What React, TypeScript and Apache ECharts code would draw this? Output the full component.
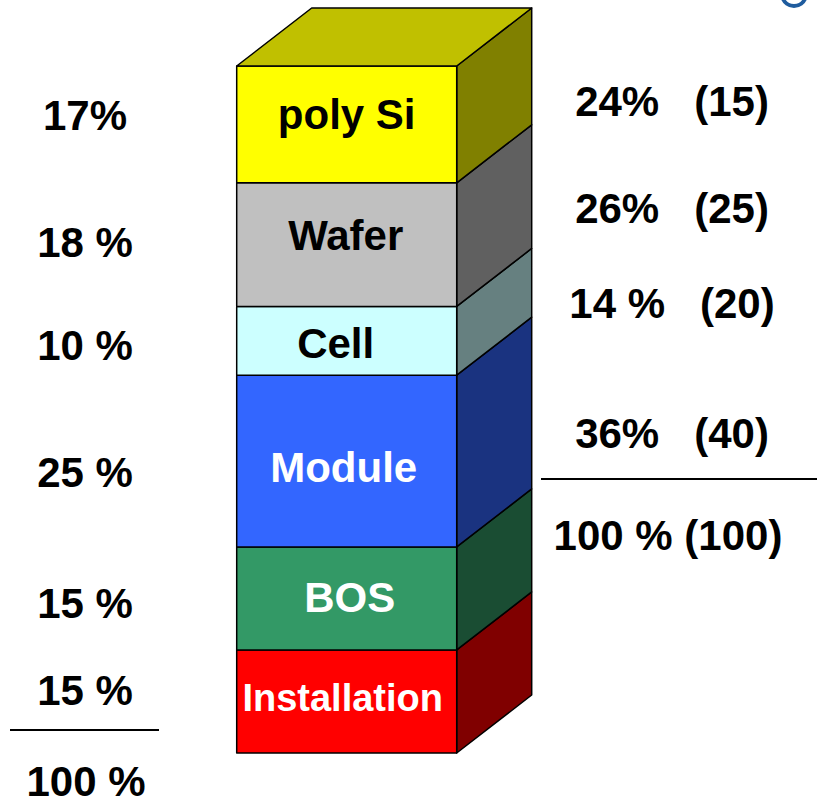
import React, { useEffect, useRef } from "react";
import * as echarts from "echarts";

// Segments, listed top to bottom
const categories = ["poly Si", "Wafer", "Cell", "Module", "BOS", "Installation"];
const values = [17, 18, 10, 25, 15, 15];
const frontColors = ["#FFFF00", "#C0C0C0", "#CCFFFF", "#3366FF", "#339966", "#FF0000"];
const sideColors = ["#808000", "#606060", "#668080", "#1A3380", "#1A4D33", "#800000"];
const topColor = "#C0C000";
const labelColors = ["#000000", "#000000", "#000000", "#FFFFFF", "#FFFFFF", "#FFFFFF"];
const labelSizes = [42, 42, 42, 42, 42, 38];
// label nudges (style)
const labelDX = [0, -1, -11, -3, 3, -4];
const labelDY = [-10, -9, 3, 6, -1, -3];

const leftLabels = ["17%", "18 %", "10 %", "25 %", "15 %", "15 %"];
const leftTotal = "100 %";
const rightLabels = ["24%   (15)", "26%   (25)", "14 %   (20)", "36%   (40)"];
const rightTotal = "100 % (100)";

const FONT = "'Liberation Sans', Arial, Helvetica, sans-serif";

export default function App() {
  const ref = useRef<HTMLDivElement>(null);
  useEffect(() => {
    if (!ref.current) return;
    const chart = echarts.init(ref.current, undefined, { renderer: "svg" });

    // stack bottom -> top
    const n = values.length;
    const data: number[][] = [];
    let acc = 0;
    for (let i = n - 1; i >= 0; i--) {
      data.push([0, acc, acc + values[i], i]);
      acc += values[i];
    }

    const DX = 75;
    const DY = -58;

    const renderItem = (params: any, api: any) => {
      const idx = api.value(3);
      const p0 = api.coord([api.value(0), api.value(1)]);
      const p1 = api.coord([api.value(0), api.value(2)]);
      const w = api.size([1, 0])[0];
      const x0 = p0[0] - w / 2;
      const x1 = x0 + w;
      const yb = p0[1];
      const yt = p1[1];
      const stroke = { stroke: "#000", lineWidth: 1.5, lineJoin: "round" };
      const children: any[] = [
        {
          type: "polygon",
          shape: { points: [[x1, yt], [x1 + DX, yt + DY], [x1 + DX, yb + DY], [x1, yb]] },
          style: { fill: sideColors[idx], ...stroke },
        },
        {
          type: "rect",
          shape: { x: x0, y: yt, width: w, height: yb - yt },
          style: { fill: frontColors[idx], ...stroke },
        },
      ];
      if (idx === 0) {
        children.push({
          type: "polygon",
          shape: { points: [[x0, yt], [x0 + DX, yt + DY], [x1 + DX, yt + DY], [x1, yt]] },
          style: { fill: topColor, ...stroke },
        });
      }
      children.push({
        type: "text",
        style: {
          text: categories[idx],
          x: (x0 + x1) / 2 + labelDX[idx],
          y: (yt + yb) / 2 + labelDY[idx],
          fill: labelColors[idx],
          fontSize: labelSizes[idx],
          fontWeight: "bold",
          fontFamily: FONT,
          align: "center",
          verticalAlign: "middle",
          textAlign: "center",
          textVerticalAlign: "middle",
        },
      });
      return { type: "group", children };
    };

    const leftY = [115, 242, 345, 472, 603, 690];
    const rightY = [101, 208, 303, 433];
    const txt = (text: string, x: number, y: number, lh?: number) => ({
      type: "text",
      x,
      y,
      style: {
        text,
        fill: "#000",
        fontSize: 42,
        fontWeight: "bold",
        fontFamily: FONT,
        lineHeight: lh,
        align: "center",
        verticalAlign: "middle",
        textAlign: "center",
        textVerticalAlign: "middle",
      },
    });

    const graphic: any[] = [];
    leftLabels.forEach((t, i) => graphic.push(txt(t, 85, leftY[i])));
    graphic.push(txt(leftTotal, 86, 781, 30));
    rightLabels.forEach((t, i) => graphic.push(txt(t, 672, rightY[i])));
    graphic.push(txt(rightTotal, 668, 535));
    graphic.push({ type: "line", shape: { x1: 10, y1: 730, x2: 159, y2: 730 }, style: { stroke: "#000", lineWidth: 2 } });
    graphic.push({ type: "line", shape: { x1: 541, y1: 479, x2: 817, y2: 479 }, style: { stroke: "#000", lineWidth: 2 } });
    graphic.push({
      type: "arc",
      shape: { cx: 794, cy: -6, r: 12, startAngle: 0.3, endAngle: Math.PI - 0.3 },
      style: { stroke: "#1F5C9E", lineWidth: 4, fill: "none" },
    });

    chart.setOption({
      animation: false,
      backgroundColor: "#FFFFFF",
      grid: { left: 236.7, right: 817 - 456.7, top: 66, bottom: 806 - 753 },
      xAxis: { type: "category", data: ["cost"], show: false, boundaryGap: true },
      yAxis: { type: "value", min: 0, max: 100, show: false },
      series: [
        {
          type: "custom",
          renderItem,
          encode: { x: 0, y: [1, 2] },
          data,
          clip: false,
        },
      ],
      graphic,
    });
    return () => chart.dispose();
  }, []);
  return <div ref={ref} style={{ position: "fixed", left: 0, top: 0, width: 817, height: 806 }} />;
}
